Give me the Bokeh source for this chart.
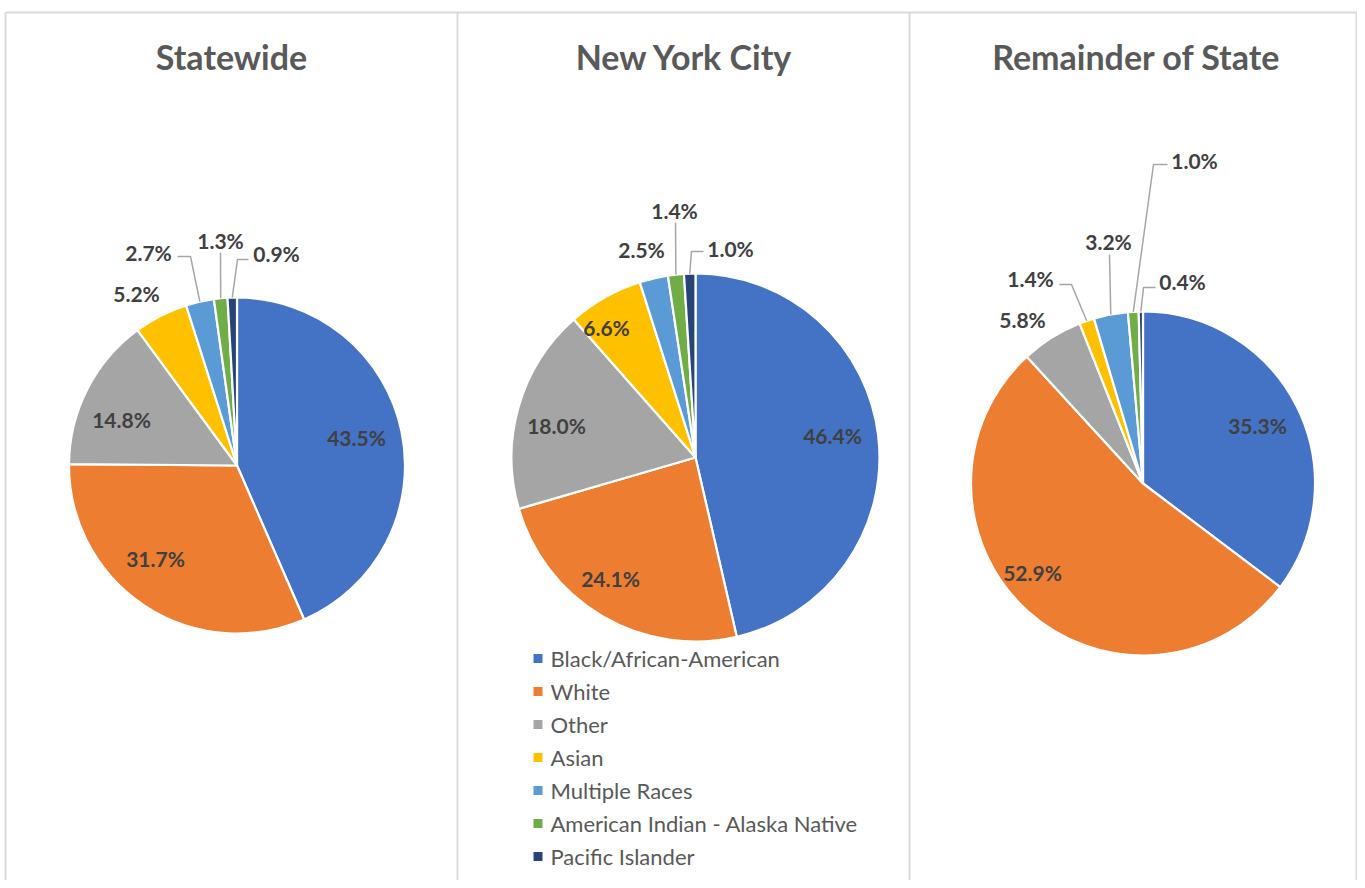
import math
from bokeh.plotting import figure
from bokeh.models import Range1d, ColumnDataSource
from bokeh.core.properties import value
from bokeh.embed import file_html
from bokeh.resources import INLINE

# ---------------- data ----------------
categories = ["Black/African-American", "White", "Other", "Asian",
              "Multiple Races", "American Indian - Alaska Native", "Pacific Islander"]
colors = ["#4472C4", "#ED7D31", "#A5A5A5", "#FFC000", "#5B9BD5", "#70AD47", "#264478"]
panel_titles = ["Statewide", "New York City", "Remainder of State"]
statewide = [43.5, 31.7, 14.8, 5.2, 2.7, 1.3, 0.9]
new_york_city = [46.4, 24.1, 18.0, 6.6, 2.5, 1.4, 1.0]
remainder_of_state = [35.3, 52.9, 5.8, 1.4, 3.2, 1.0, 0.4]
series = [statewide, new_york_city, remainder_of_state]

# ---------------- layout (screen pixel coordinates) ----------------
W, H = 1357, 880
def Y(sy):
    return H - sy

centers = [(236.5, 465), (695, 457), (1142.5, 483)]
radii = [168, 184, 172]
title_pos = [(231, 56), (684, 56), (1136, 56)]
label_pos = [
    [(356, 437), (155, 558), (121, 419), (136, 293), (148, 252), (220, 240), (276, 253)],
    [(832, 435), (610, 578), (556, 425), (606, 327), (641, 249), (674, 210), (730, 248)],
    [(1257, 425), (1032, 572), (1022, 319), (1030, 278), (1108, 241), (1194, 160), (1182, 281)],
]
# leader lines: start (and elbow) points; end point lies on the slice arc
leaders = [
    {4: [(177, 256), (190, 256)], 5: [(220, 252)], 6: [(248, 259), (237, 259)]},
    {5: [(675, 222)], 6: [(703, 251), (691, 251)]},
    {3: [(1059, 284), (1071, 284)], 4: [(1109, 254)], 5: [(1167, 164), (1153, 164)],
     6: [(1155, 287), (1143, 287)]},
]
legend_x = 537.5
legend_y0, legend_dy = 658, 33

FONT = "Lato"

p = figure(width=W, height=H, x_range=Range1d(0, W), y_range=Range1d(0, H),
           x_axis_type=None, y_axis_type=None, toolbar_location=None,
           output_backend="svg", min_border=0, outline_line_color=None,
           background_fill_color="white", border_fill_color="white")
p.grid.visible = False

# panel borders
border_col = "#D9D9D9"
p.segment(x0=[5], y0=[Y(12)], x1=[1361], y1=[Y(12)], line_color=border_col, line_width=2)
p.segment(x0=[5, 457, 909, 1356], y0=[Y(12)] * 4, x1=[5, 457, 909, 1356], y1=[0] * 4,
          line_color=border_col, line_width=2)

lx, ly, ltxt = [], [], []
lead_xs, lead_ys = [], []
for k, vals in enumerate(series):
    cx, cy = centers[k]
    r = radii[k]
    total = sum(vals)
    cum = 0.0
    starts, ends, mids = [], [], []
    for v in vals:
        f0 = cum / total
        cum += v
        f1 = cum / total
        starts.append(math.pi / 2 - 2 * math.pi * f1)
        ends.append(math.pi / 2 - 2 * math.pi * f0)
        mids.append(math.pi / 2 - math.pi * (f0 + f1))
    src = ColumnDataSource(dict(start=starts, end=ends, color=colors, cat=categories))
    p.wedge(x=cx, y=Y(cy), radius=r, start_angle="start", end_angle="end",
            direction="anticlock", fill_color="color", line_color="white",
            line_width=2.2, source=src)
    for i, v in enumerate(vals):
        sx, sy = label_pos[k][i]
        lx.append(sx); ly.append(Y(sy)); ltxt.append(f"{v:.1f}%")
        if i in leaders[k]:
            pts = leaders[k][i]
            ex = cx + r * math.cos(mids[i])
            ey = Y(cy) + r * math.sin(mids[i])
            lead_xs.append([q[0] for q in pts] + [ex])
            lead_ys.append([Y(q[1]) for q in pts] + [ey])

p.multi_line(xs=lead_xs, ys=lead_ys, line_color="#A6A6A6", line_width=1.5)

p.text(x=lx, y=ly, text=ltxt, text_font=value(FONT), text_font_style="bold",
       text_font_size="21px", text_color="#404040", text_align="center",
       text_baseline="middle")

p.text(x=[t[0] for t in title_pos], y=[Y(t[1]) for t in title_pos], text=panel_titles,
       text_font=value(FONT), text_font_style="bold", text_font_size="34px",
       text_color="#595959", text_align="center", text_baseline="middle")

# legend
leg_y = [Y(legend_y0 + i * legend_dy) for i in range(len(categories))]
p.rect(x=[legend_x] * len(categories), y=leg_y, width=9, height=9,
       fill_color=colors, line_color=None)
p.text(x=[legend_x + 12.5] * len(categories), y=leg_y, text=categories,
       text_font=value(FONT), text_font_size="22px", text_color="#595959",
       text_align="left", text_baseline="middle")

open("out.html", "w").write(file_html(p, INLINE))
